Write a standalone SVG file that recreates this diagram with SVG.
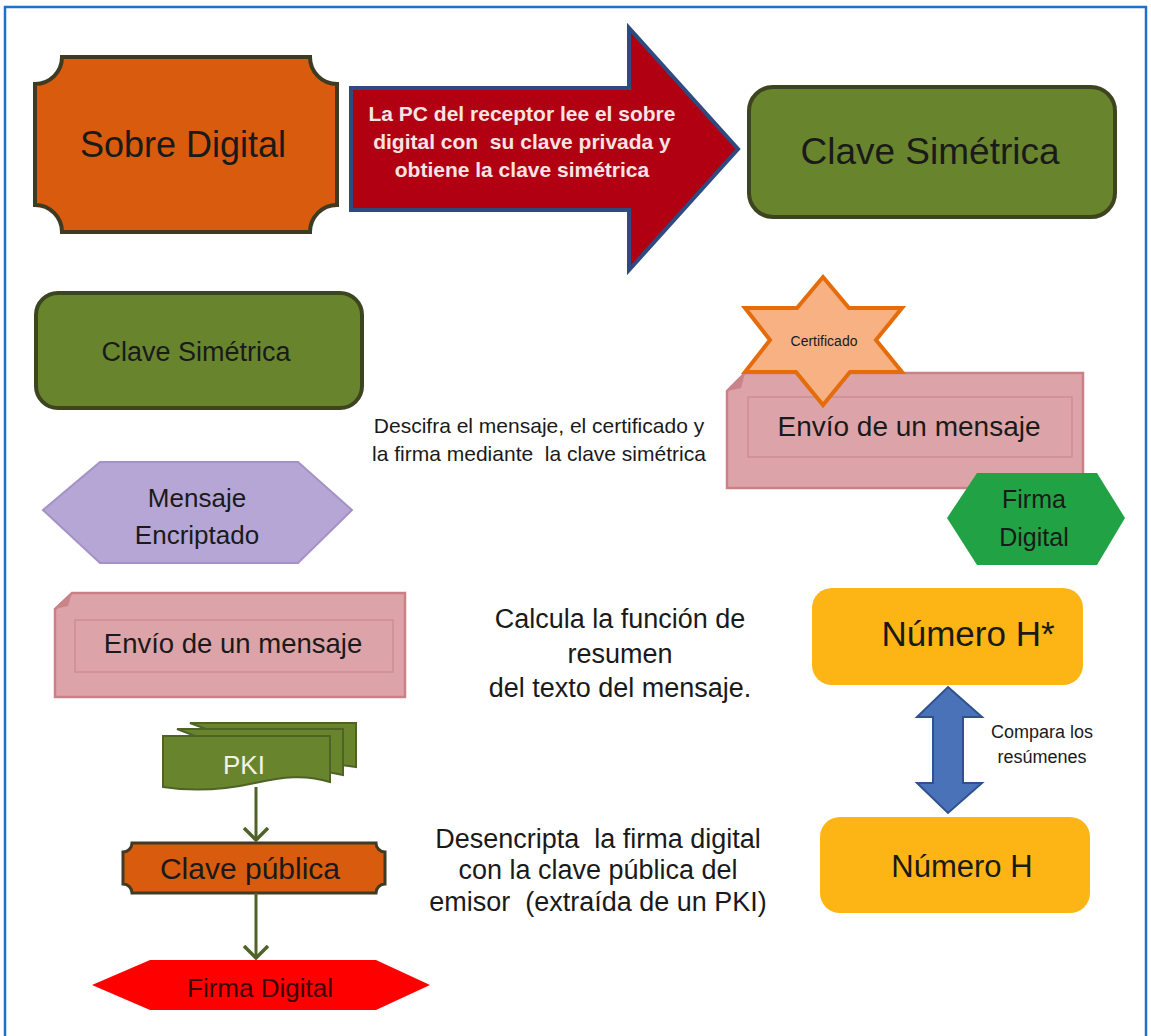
<svg xmlns="http://www.w3.org/2000/svg" width="1151" height="1036" viewBox="0 0 1151 1036">
<style>
text{font-family:"Liberation Sans",Arial,sans-serif;fill:#1a1a1a;text-anchor:middle}
.green{fill:#68852e;stroke:#3d4420;stroke-width:4}
.orange{fill:#d95b0e;stroke:#3f3a22;stroke-width:4}
.pink{fill:#dca4a8;stroke:#c98086;stroke-width:2.5}
.inner{fill:none;stroke:#c78a8f;stroke-width:1.2}
.fold{fill:#c98389}
.conn{stroke:#4f6228;stroke-width:3;fill:none}
.doc{fill:#68852e;stroke:#4f6228;stroke-width:2}
.light{fill:#f6e4e4}
</style>
<defs>
<marker id="chev" markerUnits="userSpaceOnUse" markerWidth="30" markerHeight="30" refX="13" refY="14" orient="auto" viewBox="0 0 30 30">
<path d="M1,2 L13,14 L1,26" fill="none" stroke="#4f6228" stroke-width="3.5"/>
</marker>
</defs>
<rect x="5" y="7" width="1141" height="1040" fill="#ffffff" stroke="#1e6fd0" stroke-width="2.5"/>

<g id="sobre-digital">
<path class="orange" d="M62,57 L310,57 A27,27 0 0 0 337,84 L337,205 A27,27 0 0 0 310,232 L62,232 A27,27 0 0 0 35,205 L35,84 A27,27 0 0 0 62,57 Z"/>
<text x="183" y="157" font-size="36">Sobre Digital</text>
</g>

<g id="arrow-lee">
<polygon points="351,88 629,88 629,28 738,149 629,270 629,210 351,210" fill="#b00012" stroke="#2f4a80" stroke-width="4" stroke-linejoin="miter"/>
<text class="light" x="522" y="121" font-size="21" font-weight="bold">La PC del receptor lee el sobre</text>
<text class="light" x="522" y="149" font-size="21" font-weight="bold" xml:space="preserve">digital con  su clave privada y</text>
<text class="light" x="522" y="177" font-size="21" font-weight="bold">obtiene la clave simétrica</text>
</g>

<g id="clave-simetrica-1">
<rect class="green" x="749" y="87" width="366" height="130" rx="24"/>
<text x="930" y="164" font-size="37">Clave Simétrica</text>
</g>

<g id="clave-simetrica-2">
<rect class="green" x="36" y="293" width="326" height="115" rx="22"/>
<text x="196" y="361" font-size="27">Clave Simétrica</text>
</g>

<g id="texto-descifra">
<text x="539" y="433" font-size="21">Descifra el mensaje, el certificado y</text>
<text x="539" y="461" font-size="21" xml:space="preserve">la firma mediante  la clave simétrica</text>
</g>

<g id="envio-mensaje-2">
<path class="pink" d="M745,373 L1083,373 L1083,488 L727,488 L727,391 Z"/>
<path class="fold" d="M727,391 L745,373 L741,388 Z"/>
<rect class="inner" x="748" y="397" width="324" height="60"/>
<text x="909" y="436" font-size="28">Envío de un mensaje</text>
</g>

<g id="certificado">
<polygon points="823,277 849,308 902,308 876,340 902,372 850,372 823,405 796,372 745,372 770,340 745,308 797,308" fill="#f7b183" stroke="#e46c0a" stroke-width="4" stroke-linejoin="miter"/>
<text x="824" y="346" font-size="14">Certificado</text>
</g>

<g id="firma-digital-verde">
<polygon points="947,518 977,473 1097,473 1125,518 1097,565 977,565" fill="#21a345"/>
<text x="1034" y="508" font-size="25">Firma</text>
<text x="1034" y="546" font-size="25">Digital</text>
</g>

<g id="mensaje-encriptado">
<polygon points="43,510 100,462 298,462 352,510 298,563 100,563" fill="#b5a6d6" stroke="#a492c6" stroke-width="2"/>
<text x="197" y="507" font-size="26">Mensaje</text>
<text x="197" y="544" font-size="26">Encriptado</text>
</g>

<g id="envio-mensaje-1">
<path class="pink" d="M72,593 L405,593 L405,697 L55,697 L55,609 Z"/>
<path class="fold" d="M55,609 L72,593 L68,606 Z"/>
<rect class="inner" x="75" y="620" width="318" height="52"/>
<text x="233" y="653" font-size="27.5">Envío de un mensaje</text>
</g>

<g id="texto-calcula">
<text x="620" y="628" font-size="27">Calcula la función de</text>
<text x="620" y="663" font-size="27">resumen</text>
<text x="620" y="697" font-size="27">del texto del mensaje.</text>
</g>

<g id="numero-h-asterisco">
<rect x="812" y="588" width="271" height="97" rx="20" fill="#fdb515"/>
<text x="968" y="646" font-size="35">Número H*</text>
</g>

<g id="compara">
<polygon points="948,687 982,717 963,717 963,783 982,783 948,813 917,783 933,783 933,717 917,717" fill="#4a72b8" stroke="#2f528f" stroke-width="2" stroke-linejoin="miter"/>
<text x="1042" y="738" font-size="18">Compara los</text>
<text x="1042" y="763" font-size="18">resúmenes</text>
</g>

<g id="numero-h">
<rect x="820" y="817" width="270" height="96" rx="20" fill="#fdb515"/>
<text x="962" y="877" font-size="31">Número H</text>
</g>

<g id="texto-desencripta">
<text x="598" y="848" font-size="27" xml:space="preserve">Desencripta  la firma digital</text>
<text x="598" y="879" font-size="27">con la clave pública del</text>
<text x="598" y="911" font-size="27" xml:space="preserve">emisor  (extraída de un PKI)</text>
</g>

<g id="pki">
<path class="doc" d="M190,723 L356,723 L356,767 C340,764 325,764 310,768 Z"/>
<path class="doc" d="M177,729 L343,729 L343,775 C328,771 312,771 296,775 Z"/>
<path class="doc" d="M163,736 L330,736 L330,782 C305,774 282,777 255,783 C228,789 195,792 163,787 Z"/>
<text x="244" y="774" font-size="26" style="fill:#f2f2e6">PKI</text>
</g>

<g id="clave-publica">
<path class="orange" d="M132,843 L376,843 A9,9 0 0 0 385,852 L385,884 A9,9 0 0 0 376,893 L132,893 A9,9 0 0 0 123,884 L123,852 A9,9 0 0 0 132,843 Z" style="stroke-width:3"/>
<text x="250" y="879" font-size="30">Clave pública</text>
</g>

<g id="firma-digital-roja">
<polygon points="92,985 150,960 376,960 430,985 376,1010 150,1010" fill="#ff0000"/>
<text x="260" y="997" font-size="26" style="fill:#3c0000">Firma Digital</text>
</g>

<g id="connectors">
<line class="conn" x1="256" y1="787" x2="256" y2="840" marker-end="url(#chev)"/>
<line class="conn" x1="256" y1="893" x2="256" y2="958" marker-end="url(#chev)"/>
</g>
</svg>
